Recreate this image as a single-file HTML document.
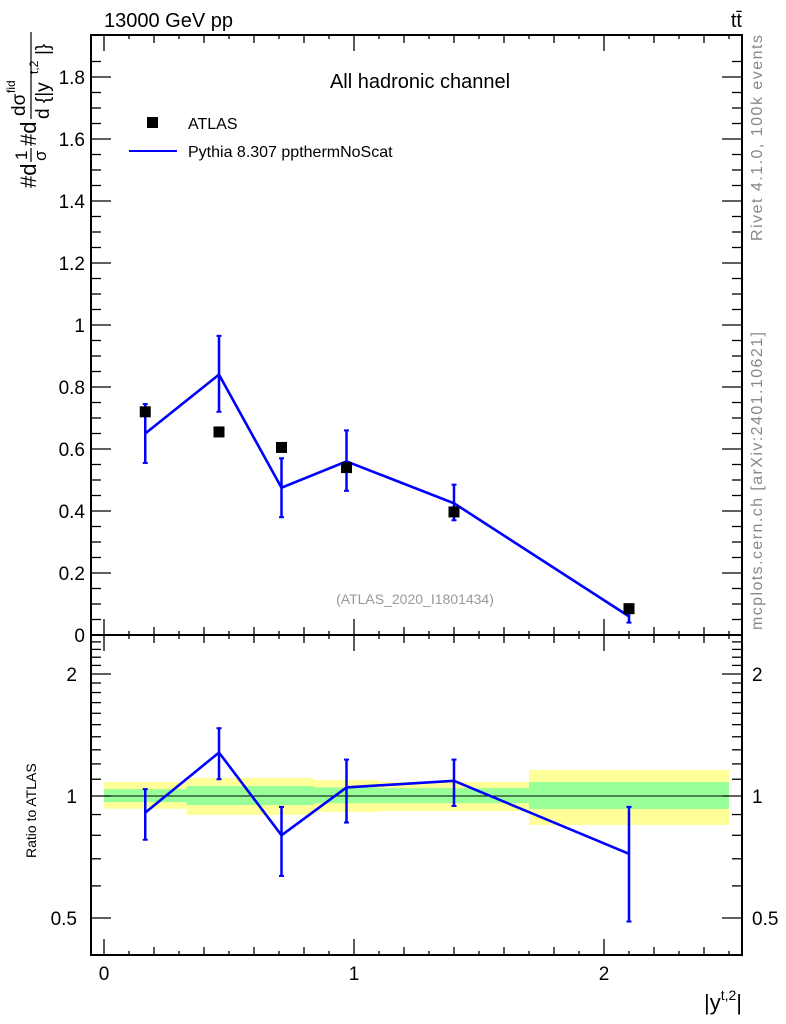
<!DOCTYPE html>
<html><head><meta charset="utf-8"><style>
html,body{margin:0;padding:0;background:#fff;}
svg{display:block;font-family:"Liberation Sans",sans-serif;}
</style></head><body>
<svg id="chart" width="786" height="1024" viewBox="0 0 786 1024">
<g id="bands"></g>
<g id="axes"></g>
<g id="marks"></g>
<text x="104" y="27" font-size="20">13000 GeV pp</text>
<text x="742" y="27" font-size="20" text-anchor="end">tt̄</text>
<text x="420" y="88" font-size="20" text-anchor="middle">All hadronic channel</text>
<rect x="147" y="117" width="11" height="11" fill="#000"/>
<text x="188" y="129" font-size="16">ATLAS</text>
<line x1="129" y1="151" x2="177" y2="151" stroke="#0000ff" stroke-width="2"/>
<text x="188" y="157" font-size="16">Pythia 8.307 ppthermNoScat</text>
<text x="415" y="604" font-size="14" fill="#999" text-anchor="middle">(ATLAS_2020_I1801434)</text>
<text transform="translate(762,241) rotate(-90)" font-size="16" fill="#888" textLength="206">Rivet 4.1.0,  100k events</text>
<text transform="translate(762,630) rotate(-90)" font-size="16" fill="#888" textLength="298">mcplots.cern.ch [arXiv:2401.10621]</text>
<g transform="translate(36,188) rotate(-90)">
<text x="0" y="0" font-size="22">#d</text>
<text x="28" y="-9" font-size="17">1</text>
<line x1="26" y1="-5" x2="40" y2="-5" stroke="#000" stroke-width="1.2"/>
<text x="27" y="10" font-size="17">σ</text>
<text x="42" y="0" font-size="22">#d</text>
<text x="72" y="-11" font-size="19">dσ</text>
<text x="95" y="-21" font-size="12">fid</text>
<line x1="69" y1="-5" x2="156" y2="-5" stroke="#000" stroke-width="1.2"/>
<text x="69" y="13" font-size="19">d {|y</text>
<text x="114" y="2" font-size="12">t,2</text>
<text x="133" y="13" font-size="19">|}</text>
</g>
<text transform="translate(36,858) rotate(-90)" font-size="14">Ratio to ATLAS</text>
<text x="742" y="1010" font-size="22" text-anchor="end">|y<tspan font-size="14" dy="-10">t,2</tspan><tspan dy="10">|</tspan></text>
</svg>
<script>
const xs = [0.165, 0.46, 0.71, 0.97, 1.4, 2.1];
const atlas = [0.72, 0.655, 0.605, 0.54, 0.397, 0.085];
const pythia = [0.65, 0.84, 0.475, 0.56, 0.425, 0.06];
const pythiaLo = [0.555, 0.72, 0.38, 0.465, 0.37, 0.04];
const pythiaHi = [0.745, 0.965, 0.57, 0.66, 0.485, 0.08];
const ratio = [0.91, 1.28, 0.80, 1.05, 1.09, 0.72];
const ratioLo = [0.78, 1.10, 0.635, 0.86, 0.945, 0.49];
const ratioHi = [1.04, 1.47, 0.94, 1.23, 1.23, 0.94];
const binEdges = [0, 0.33, 0.84, 1.1, 1.7, 2.5];
const yellowLo = [0.93, 0.898, 0.913, 0.918, 0.848];
const yellowHi = [1.083, 1.108, 1.095, 1.083, 1.159];
const greenLo = [0.966, 0.95, 0.96, 0.96, 0.929];
const greenHi = [1.04, 1.058, 1.05, 1.046, 1.083];
const mainTicks = [0, 0.2, 0.4, 0.6, 0.8, 1, 1.2, 1.4, 1.6, 1.8];
const mainTickLabels = ["0", "0.2", "0.4", "0.6", "0.8", "1", "1.2", "1.4", "1.6", "1.8"];
const ratioTicks = [0.5, 1, 2];
const ratioTickLabels = ["0.5", "1", "2"];
const xTicks = [0, 1, 2];
const xTickLabels = ["0", "1", "2"];

const L=91,R=742,T=35,MB=635,RB=955;
const X=v=>104+v*250;
const Y=v=>635-v*310;
const RY=v=>796-Math.log2(v)*122;
const NS="http://www.w3.org/2000/svg";
function mk(tag,attrs,parent){const e=document.createElementNS(NS,tag);for(const k in attrs)e.setAttribute(k,attrs[k]);parent.appendChild(e);return e;}
const ax=document.getElementById('axes'),mk_=document.getElementById('marks'),bd=document.getElementById('bands');

for(let i=0;i<binEdges.length-1;i++){
 const y=mk('rect',{x:X(binEdges[i]),y:RY(yellowHi[i]),width:X(binEdges[i+1])-X(binEdges[i]),height:RY(yellowLo[i])-RY(yellowHi[i]),fill:'#ffff99'},bd);
 
 
 const g=mk('rect',{x:X(binEdges[i]),y:RY(greenHi[i]),width:X(binEdges[i+1])-X(binEdges[i]),height:RY(greenLo[i])-RY(greenHi[i]),fill:'#99ff99'},bd);
 
 
}
const one=mk('line',{x1:L,x2:R,y1:RY(1),y2:RY(1),stroke:'#000','stroke-width':1},bd);



const f1=mk('rect',{x:L,y:T,width:R-L,height:MB-T,fill:'none',stroke:'#000','stroke-width':2},ax);


const f2=mk('rect',{x:L,y:MB,width:R-L,height:RB-MB,fill:'none',stroke:'#000','stroke-width':2},ax);


function tk(x1,y1,x2,y2){mk('line',{x1,y1,x2,y2,stroke:'#000','stroke-width':1.3},ax);}
for(let v=0;v<=1.9;v+=0.05){const y=Y(v);if(y<T)break;const maj=Math.abs(v/0.2-Math.round(v/0.2))<1e-6;const l=maj?20:10;tk(L,y,L+l,y);tk(R,y,R-l,y);}
mainTicks.forEach((v,i)=>{const t=mk('text',{x:L-6,y:Y(v)+7,'font-size':19,'text-anchor':'end'},ax);t.textContent=mainTickLabels[i];
 
 });
for(let k=0;k<=25;k++){const v=k*0.1;const x=X(v);const maj=k%10==0,med=k%2==0;const l=maj?16:(med?8:4);
 tk(x,MB,x,MB-l);tk(x,T,x,T+l);tk(x,RB,x,RB-l);tk(x,MB,x,MB+l);}
xTicks.forEach((v,i)=>{const t=mk('text',{x:X(v),y:980,'font-size':19,'text-anchor':'middle'},ax);t.textContent=xTickLabels[i];
 
 });
const rminor=[0.5,0.6,0.7,0.8,0.9,1,1.1,1.2,1.3,1.4,1.5,1.6,1.7,1.8,1.9,2,2.1,2.2,2.3,2.4];
rminor.forEach(v=>{const y=RY(v);const maj=(v==0.5||v==1||v==2);const l=maj?20:10;tk(L,y,L+l,y);tk(R,y,R-l,y);});
ratioTicks.forEach((v,i)=>{
 const t=mk('text',{x:L-14,y:RY(v)+7,'font-size':19,'text-anchor':'end'},ax);t.textContent=ratioTickLabels[i];
 
 
 const t2=mk('text',{x:R+10,y:RY(v)+7,'font-size':19},ax);t2.textContent=ratioTickLabels[i];
 
 });

function errbar(x,y1,y2){mk('line',{x1:x,x2:x,y1,y2,stroke:'#0000ff','stroke-width':2.5},mk_);
 mk('line',{x1:x-2.5,x2:x+2.5,y1,y2:y1,stroke:'#0000ff','stroke-width':2},mk_);
 mk('line',{x1:x-2.5,x2:x+2.5,y1:y2,y2,stroke:'#0000ff','stroke-width':2},mk_);}
xs.forEach((v,i)=>{errbar(X(v),Y(pythiaHi[i]),Y(pythiaLo[i]));errbar(X(v),RY(ratioHi[i]),RY(ratioLo[i]));});
const pl=mk('polyline',{points:xs.map((v,i)=>X(v)+','+Y(pythia[i])).join(' '),fill:'none',stroke:'#0000ff','stroke-width':2.6},mk_);


const rl=mk('polyline',{points:xs.map((v,i)=>X(v)+','+RY(ratio[i])).join(' '),fill:'none',stroke:'#0000ff','stroke-width':2.6},mk_);


xs.forEach((v,i)=>{const r=mk('rect',{x:X(v)-5.5,y:Y(atlas[i])-5.5,width:11,height:11,fill:'#000'},mk_);
 
 });
</script>
</body></html>
